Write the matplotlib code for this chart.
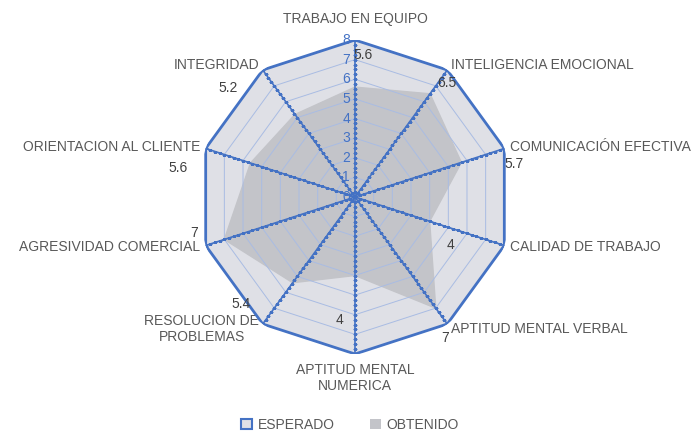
import numpy as np
import matplotlib
matplotlib.use("Agg")
from matplotlib import pyplot as plt
from matplotlib.patches import Patch

categorias = ["TRABAJO EN EQUIPO", "INTELIGENCIA EMOCIONAL", "COMUNICACIÓN EFECTIVA",
              "CALIDAD DE TRABAJO", "APTITUD MENTAL VERBAL", "APTITUD MENTAL\nNUMERICA",
              "RESOLUCION DE\nPROBLEMAS", "AGRESIVIDAD COMERCIAL", "ORIENTACION AL CLIENTE",
              "INTEGRIDAD"]
esperado = [8, 8, 8, 8, 8, 8, 8, 8, 8, 8]
obtenido = [5.6, 6.5, 5.7, 4, 7, 4, 5.4, 7, 5.6, 5.2]
escala = [0, 1, 2, 3, 4, 5, 6, 7, 8]

# where the value labels sit, offset from the outer vertex (pixels)
label_off = [(8, -15), (0, -13), (10, -16), (-54, 1), (-2, -14),
             (-15, 34), (-22, 20), (-12, 13), (-28, -20), (-35, -18)]

azul = "#4472C4"
gris_txt = "#595959"

plt.rcParams['font.family'] = ['Liberation Sans', 'DejaVu Sans']

n = len(categorias)
ang = np.arange(n) * 2 * np.pi / n
ang_c = np.append(ang, ang[0])

fig = plt.figure(figsize=(7, 4.32), dpi=100)
cx, cy, R = 355 / 700, 1 - 197 / 432, 157
ax = fig.add_axes([cx - R / 700, cy - R / 432, 2 * R / 700, 2 * R / 432], projection="polar")
ax.set_theta_offset(np.pi / 2)
ax.set_theta_direction(-1)
ax.set_ylim(0, 8)
ax.grid(False)
ax.spines["polar"].set_visible(False)
ax.set_xticks([])
ax.set_yticks([])
ax.patch.set_alpha(0)

# series
esp = np.append(esperado, esperado[0])
obt = np.append(obtenido, obtenido[0])
ax.fill(ang_c, esp, color="#dfe0e6", zorder=1)
ax.fill(ang_c, obt, color="#c3c4c9", zorder=2)

# polygon grid rings and spokes
for r in escala[1:-1]:
    ax.plot(ang_c, [r] * (n + 1), color="#a9bce3", lw=0.7, zorder=3)
for a in ang:
    ax.plot([a, a], [0, 8], color=azul, lw=1.2, zorder=4)
    ax.plot([a] * 33, np.linspace(0, 8, 33), ls="none", marker="_", ms=3,
            mew=0.8, color=azul, zorder=4)
ax.plot(ang_c, esp, color=azul, lw=2, zorder=5)

# radial scale
for r in escala:
    ax.annotate(str(r), xy=(0, r), xytext=(-5, 0), textcoords="offset pixels",
                ha="right", va="center", fontsize=10, color=azul, zorder=6)

# category labels
for a, c in zip(ang, categorias):
    s, co = np.sin(a), np.cos(a)
    if abs(s) < 0.01:
        if co > 0:
            ax.text(a, 8.7, c, ha="center", va="bottom", fontsize=10, color=gris_txt)
        else:
            ax.text(a, 8.45, c, ha="center", va="top", fontsize=10, color=gris_txt,
                    multialignment="center", linespacing=1.2)
    else:
        ax.text(a, 8.3, c, ha="left" if s > 0 else "right", va="center",
                fontsize=10, color=gris_txt, multialignment="center", linespacing=1.2)

# value labels
for a, v, off in zip(ang, obtenido, label_off):
    ax.annotate(f"{v:g}", xy=(a, 8), xytext=off, textcoords="offset pixels",
                ha="center", va="center", fontsize=10, color="#404040", zorder=7)

handles = [Patch(facecolor="#dfe0e6", edgecolor=azul, lw=1.5, label="ESPERADO"),
           Patch(facecolor="#c3c4c9", edgecolor="none", label="OBTENIDO")]
fig.legend(handles=handles, loc="center", bbox_to_anchor=(0.5, 1 - 425 / 432), ncol=2,
           frameon=False, fontsize=10, labelcolor=gris_txt, handlelength=0.8,
           handleheight=0.8, columnspacing=2.5, handletextpad=0.4)

fig.savefig("out.png", dpi=100)
